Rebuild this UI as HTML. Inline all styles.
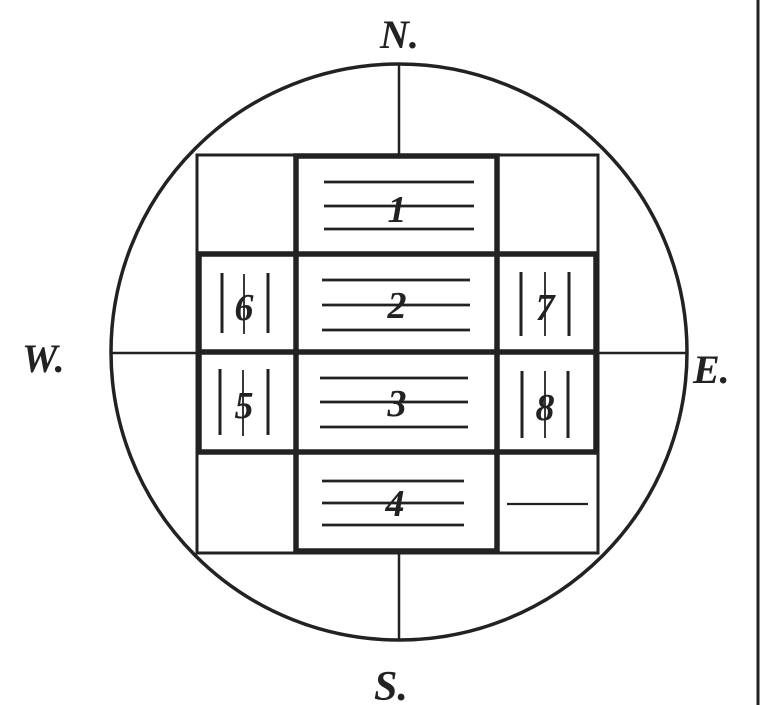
<!DOCTYPE html>
<html><head><style>
html,body{margin:0;padding:0;background:#fff;}
svg{display:block;}
text{font-family:"Liberation Serif",serif;font-style:italic;font-weight:bold;fill:#222;}
</style></head><body>
<svg width="760" height="705" viewBox="0 0 760 705">
<rect x="0" y="0" width="760" height="705" fill="#fff"/>
<line x1="758" y1="0" x2="758" y2="705" stroke="#222" stroke-width="3"/>
<circle cx="399" cy="352" r="288" fill="none" stroke="#222" stroke-width="3.5"/>
<line x1="399" y1="64" x2="399" y2="154" stroke="#222" stroke-width="2.5"/>
<line x1="399" y1="553" x2="399" y2="640" stroke="#222" stroke-width="2.5"/>
<line x1="110" y1="353" x2="197" y2="353" stroke="#222" stroke-width="2.5"/>
<line x1="598" y1="353" x2="688" y2="353" stroke="#222" stroke-width="2.5"/>
<text x="380" y="48" font-size="40">N.</text>
<text x="22" y="372" font-size="40">W.</text>
<text x="693" y="383" font-size="40">E.</text>
<text x="374" y="700" font-size="42">S.</text>
<rect x="197" y="155" width="401" height="398" fill="none" stroke="#222" stroke-width="3"/>
<line x1="197" y1="253" x2="598" y2="253" stroke="#222" stroke-width="3"/>
<line x1="197" y1="453" x2="598" y2="453" stroke="#222" stroke-width="3"/>
<rect x="199" y="254" width="397" height="198" fill="none" stroke="#222" stroke-width="5.5"/>
<line x1="197" y1="352" x2="598" y2="352" stroke="#222" stroke-width="5.5"/>
<rect x="296" y="156" width="201" height="395" fill="none" stroke="#222" stroke-width="5.5"/>
<g stroke="#222" stroke-width="2.8">
<line x1="324" y1="182" x2="474" y2="182"/><line x1="324" y1="206" x2="474" y2="206"/><line x1="324" y1="229" x2="474" y2="229"/>
<line x1="322" y1="280" x2="470" y2="280"/><line x1="322" y1="305" x2="470" y2="305"/><line x1="322" y1="330" x2="470" y2="330"/>
<line x1="320" y1="378" x2="468" y2="378"/><line x1="320" y1="402" x2="468" y2="402"/><line x1="320" y1="427" x2="468" y2="427"/>
<line x1="322" y1="481" x2="464" y2="481"/><line x1="322" y1="503" x2="464" y2="503"/><line x1="322" y1="525" x2="464" y2="525"/>
<line x1="507" y1="504" x2="588" y2="504" stroke-width="2.2"/>
</g>
<g stroke="#222" stroke-width="3">
<line x1="222" y1="273" x2="222" y2="333"/><line x1="268" y1="273" x2="268" y2="333"/>
<line x1="220" y1="369" x2="220" y2="435"/><line x1="268" y1="369" x2="268" y2="435"/>
<line x1="521" y1="272" x2="521" y2="336"/><line x1="569" y1="272" x2="569" y2="336"/>
<line x1="522" y1="371" x2="522" y2="438"/><line x1="568" y1="371" x2="568" y2="438"/>
<line x1="244" y1="274" x2="244" y2="334" stroke-width="1.8"/>
<line x1="243" y1="370" x2="243" y2="436" stroke-width="1.8"/>
<line x1="545" y1="272" x2="545" y2="336" stroke-width="1.8"/>
<line x1="545" y1="371" x2="545" y2="438" stroke-width="1.8"/>
</g>
<g font-size="38" text-anchor="middle">
<text x="397" y="222">1</text>
<text x="397" y="318">2</text>
<text x="397" y="416">3</text>
<text x="395" y="516">4</text>
<text x="244" y="320">6</text>
<text x="244" y="418">5</text>
<text x="545" y="320">7</text>
<text x="545" y="420">8</text>
</g>
</svg>
</body></html>
